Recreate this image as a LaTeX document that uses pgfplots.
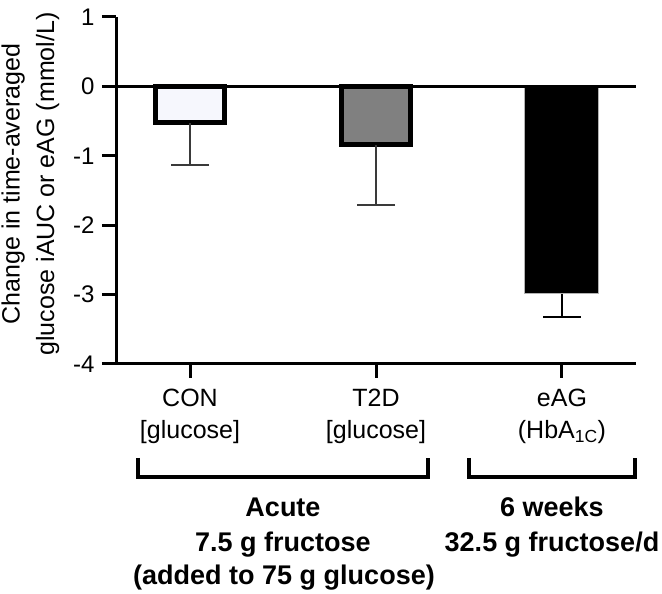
\documentclass[border=0pt]{standalone}
\usepackage{fontspec}
\setmainfont{Liberation Sans}
\usepackage{pgfplots}
\pgfplotsset{compat=1.18}
\definecolor{conf}{HTML}{F6F7FD}
\definecolor{t2df}{HTML}{808080}
\definecolor{errc}{HTML}{3A3A3A}
\begin{document}
\begin{tikzpicture}[x=1pt,y=1pt]
\useasboundingbox (0,0) rectangle (662,594);
\begin{axis}[
  at={(116pt,230pt)}, anchor=south west,
  scale only axis, width=520pt, height=347pt,
  xmin=-0.398, xmax=2.398, ymin=-4, ymax=1,
  axis x line*=bottom, axis y line*=left,
  axis line style={line width=3pt, -},
  xtick={0,1,2},
  xticklabels={{CON\\{[}glucose{]}},{T2D\\{[}glucose{]}},{eAG\\(HbA\textsubscript{1C})}},
  ytick={-4,-3,-2,-1,0,1},
  yticklabels={-4,-3,-2,-1,0,1},
  tick align=outside, major tick length=14pt,
  tick style={line width=3pt, black},
  yticklabel style={font=\fontsize{24}{28}\selectfont, xshift=-4pt},
  xticklabel style={font=\fontsize{25}{32}\selectfont, align=center, yshift=-8pt},
  clip=false,
]
\addplot[ybar, bar width=0.371, bar shift=0pt, fill=conf, draw=black, line width=5pt,
  error bars/.cd, y dir=minus, y explicit,
  error bar style={line width=2pt, errc},
  error mark options={rotate=90, line width=2pt, mark size=19pt, errc}]
  coordinates {(0,-0.527) -= (0,0.599)};
\addplot[ybar, bar width=0.371, bar shift=0pt, fill=t2df, draw=black, line width=5pt,
  error bars/.cd, y dir=minus, y explicit,
  error bar style={line width=2pt, errc},
  error mark options={rotate=90, line width=2pt, mark size=19pt, errc}]
  coordinates {(1,-0.844) -= (0,0.859)};
\addplot[ybar, bar width=0.398, bar shift=0pt, fill=black, draw=gray!60, line width=1pt,
  error bars/.cd, y dir=minus, y explicit,
  error bar style={line width=2pt, black},
  error mark options={rotate=90, line width=2pt, mark size=19pt, black}]
  coordinates {(2,-2.99) -= (0,0.34)};
\draw[line width=3pt] (axis cs:-0.398,0) -- (axis cs:2.398,0);
\end{axis}
\draw[line width=4pt, line join=miter] (138,136) -- (138,117) -- (428,117) -- (428,136);
\draw[line width=4pt, line join=miter] (469,136) -- (469,117) -- (635,117) -- (635,136);
\begin{scope}[every node/.style={font=\bfseries\fontsize{27}{32}\selectfont, anchor=base, inner sep=0pt}]
\node at (283,77) {Acute};
\node at (283,42) {7.5 g fructose};
\node at (284,9) {(added to 75 g glucose)};
\node at (552,77) {6 weeks};
\node at (552,42) {32.5 g fructose/d};
\end{scope}
\begin{scope}[every node/.style={font=\fontsize{25}{30}\selectfont, rotate=90, anchor=base, inner sep=0pt}]
\node at (19.5,410) {Change in time-averaged};
\node at (54,410) {glucose iAUC or eAG (mmol/L)};
\end{scope}
\end{tikzpicture}
\end{document}
